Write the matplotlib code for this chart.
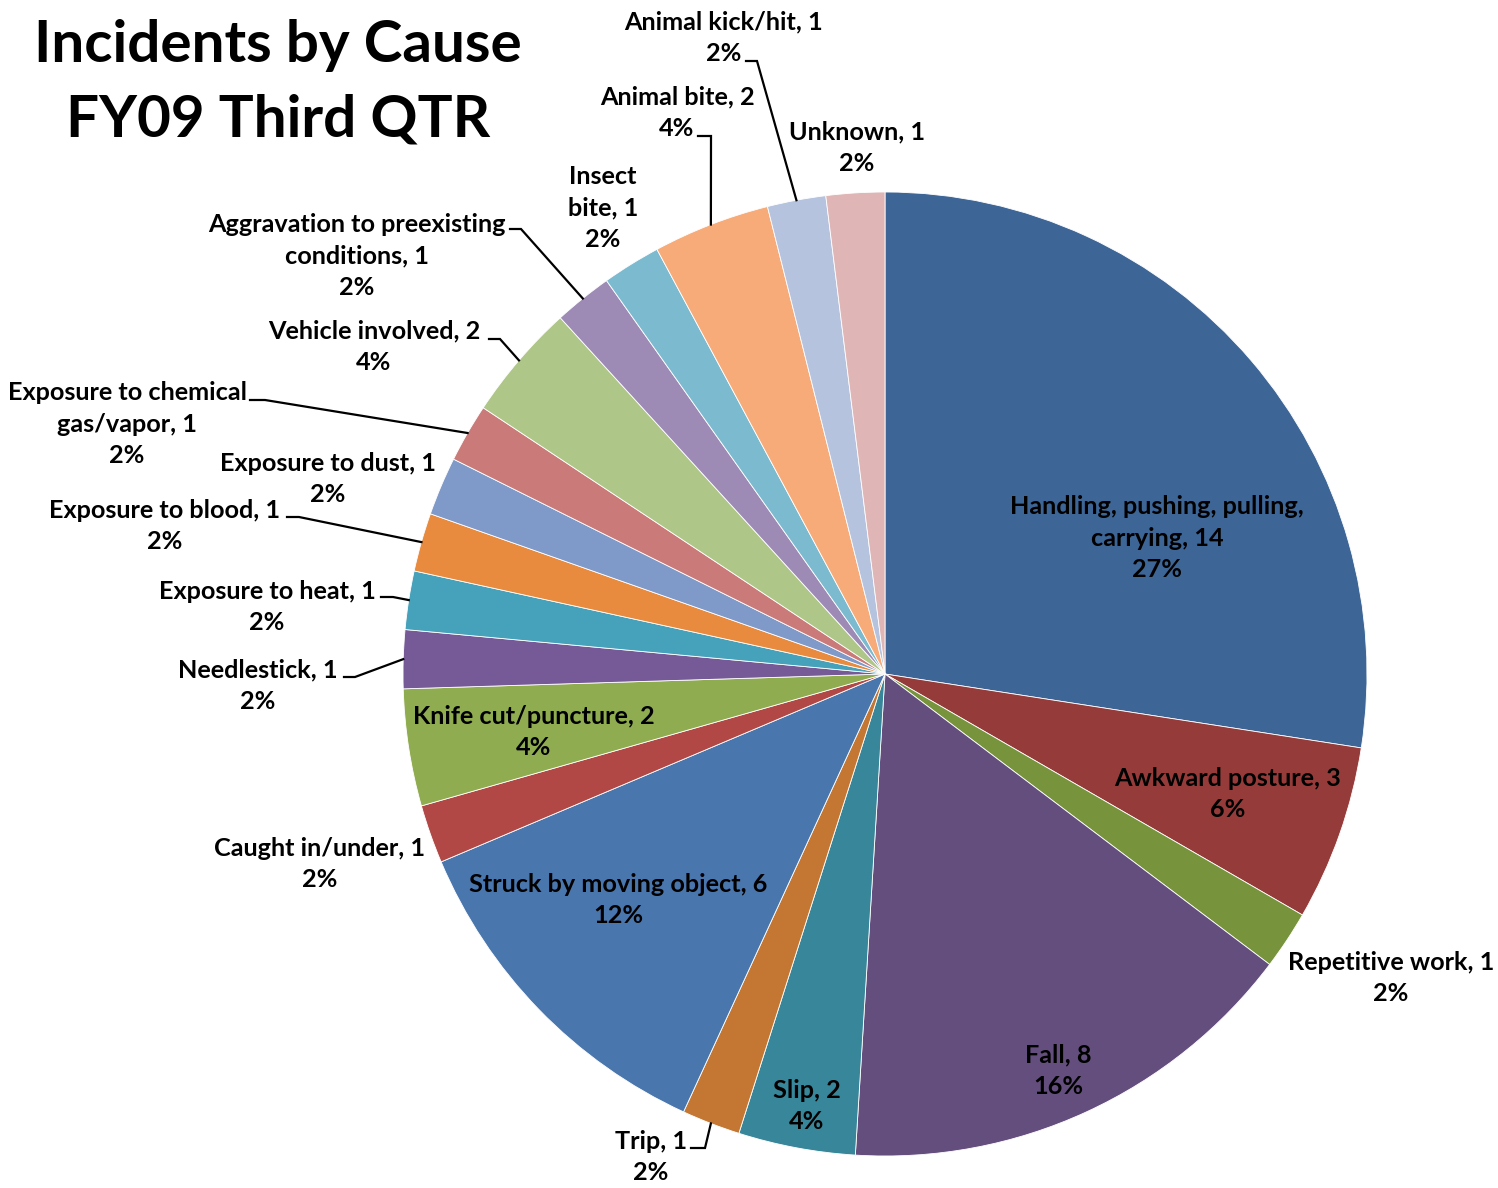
import matplotlib
matplotlib.use("Agg")
import matplotlib.pyplot as plt
import numpy as np

W, H = 1498, 1188

# ---------------- data ----------------
causes = ["Handling, pushing, pulling, carrying", "Awkward posture", "Repetitive work",
          "Fall", "Slip", "Trip", "Struck by moving object", "Caught in/under",
          "Knife cut/puncture", "Needlestick", "Exposure to heat", "Exposure to blood",
          "Exposure to dust", "Exposure to chemical gas/vapor", "Vehicle involved",
          "Aggravation to preexisting conditions", "Insect bite", "Animal bite",
          "Animal kick/hit", "Unknown"]
counts = [14, 3, 1, 8, 2, 1, 6, 1, 2, 1, 1, 1, 1, 1, 2, 1, 1, 2, 1, 1]
title_lines = ["Incidents by Cause", "FY09 Third QTR"]

colors = ["#3D6596", "#953C3A", "#77933C", "#634E7D", "#38869A", "#C47732",
          "#4A76AE", "#B14846", "#90AC50", "#765A97", "#46A1BA", "#E88B3E",
          "#7F9AC8", "#CA7B79", "#AEC687", "#9D8BB5", "#7CBACF", "#F7AB79",
          "#B5C3DE", "#DFB5B5"]

# ---------------- layout ----------------
wraps = {"Handling, pushing, pulling, carrying": "Handling, pushing, pulling,\ncarrying",
         "Exposure to chemical gas/vapor": "Exposure to chemical\ngas/vapor",
         "Aggravation to preexisting conditions": "Aggravation to preexisting\nconditions",
         "Insect bite": "Insect\nbite"}
label_pos = [(1157, 538), (1228, 794), (1391, 978), (1058, 1071), (807, 1106),
             (651, 1157), (618, 900), (320, 864), (534, 732), (258, 686),
             (267, 607), (165, 526), (328, 479), (127, 424), (374, 347),
             (357, 256), (603, 208), (677, 113), (724, 38), (857, 148)]
leaders = [None, None, None, None, None, (691, 705, 1148), None, None, None,
           (344, 355, 677), (381, 393, 597), (287, 299, 517), None,
           (250, 265, 400), (489, 500, 339), (510, 521, 229), None,
           (698, 711, 136), (746, 757, 61), None]

cx, cy, R = 885, 674, 482

fig = plt.figure(figsize=(W / 100, H / 100), dpi=100)
ax = fig.add_axes([0, 0, 1, 1])
wedges, _ = ax.pie(counts, colors=colors, startangle=90, counterclock=False,
                   center=(cx, H - cy), radius=R,
                   wedgeprops=dict(edgecolor="white", linewidth=0.6))
ax.set_xlim(0, W)
ax.set_ylim(0, H)
ax.set_aspect("equal")
ax.axis("off")

FONT = "Lato"
renderer = fig.canvas.get_renderer()


def fit_size(text, target_px, base=20):
    t = fig.text(0, 0, text, fontsize=base, fontweight="bold", family=FONT)
    w = t.get_window_extent(renderer).width
    t.remove()
    return base * target_px / w


def line_pitch(fs, lsp):
    t = fig.text(0, 0, "A\nA", fontsize=fs, fontweight="bold", family=FONT,
                 linespacing=lsp)
    h2 = t.get_window_extent(renderer).height
    t.remove()
    t = fig.text(0, 0, "A", fontsize=fs, fontweight="bold", family=FONT)
    h1 = t.get_window_extent(renderer).height
    t.remove()
    return h2 - h1


lab_fs = fit_size("Handling, pushing, pulling,", 294)
title_fs = fit_size(title_lines[0], 489)
lsp = 1.2 * 32.5 / line_pitch(lab_fs, 1.2)

total = sum(counts)
for i, (name, c) in enumerate(zip(causes, counts)):
    pct = int(np.floor(100 * c / total + 0.5))
    txt = f"{wraps.get(name, name)}, {c}\n{pct}%"
    x, y = label_pos[i]
    ax.text(x, H - y, txt, ha="center", va="center", fontsize=lab_fs,
            fontweight="bold", family=FONT, linespacing=lsp, color="black")
    if leaders[i] is not None:
        x0, x1, ly = leaders[i]
        w = wedges[i]
        mid = np.deg2rad((w.theta1 + w.theta2) / 2)
        ex = w.center[0] + w.r * np.cos(mid)
        ey = w.center[1] + w.r * np.sin(mid)
        ax.plot([x0, x1, ex], [H - ly, H - ly, ey], color="black", lw=1.6,
                solid_joinstyle="miter")

ax.text(278, H - 62, title_lines[0], ha="center", va="baseline",
        fontsize=title_fs, fontweight="bold", family=FONT)
ax.text(278, H - 137, title_lines[1], ha="center", va="baseline",
        fontsize=title_fs, fontweight="bold", family=FONT)

fig.savefig("out.png", dpi=100)
